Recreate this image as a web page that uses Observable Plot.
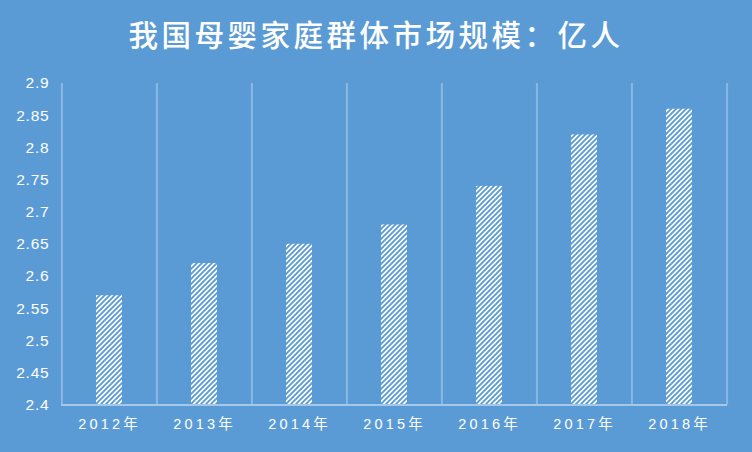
<!DOCTYPE html>
<html>
<head>
<meta charset="utf-8">
<script src="https://cdn.jsdelivr.net/npm/d3@7"></script>
<script src="https://cdn.jsdelivr.net/npm/@observablehq/plot@0.6"></script>
<style>
  body { margin: 0; background: #5B9BD5; }
  #wrap { position: relative; width: 752px; height: 452px; background: #5B9BD5; overflow: hidden; }
  #title { position: absolute; left: 0; top: 0; width: 752px; height: 67px; line-height: 67px;
    text-align: center; color: #fff; font-family: "Noto Sans CJK SC", sans-serif; font-size: 29.5px;
    font-weight: 500; letter-spacing: 3.5px; }
  svg [aria-label="y-axis tick label"] { font-family: "Liberation Sans", sans-serif; font-size: 15.5px; letter-spacing: 0.8px; }
  svg [aria-label="x-axis tick label"] { font-family: "Liberation Sans", "Noto Sans CJK SC", sans-serif; font-size: 14.5px; letter-spacing: 3.2px; }
</style>
</head>
<body>
<div id="wrap"><div id="title"></div></div>
<script>
const titleText = "我国母婴家庭群体市场规模：亿人";
const years = ["2012年", "2013年", "2014年", "2015年", "2016年", "2017年", "2018年"];
const values = [2.57, 2.62, 2.65, 2.68, 2.74, 2.82, 2.86];
const yTicks = [2.4, 2.45, 2.5, 2.55, 2.6, 2.65, 2.7, 2.75, 2.8, 2.85, 2.9];
const yDomain = [2.4, 2.9];

const data = years.map((year, i) => ({year, value: values[i]}));

const W = 752, H = 452, mL = 61, mR = 25, mT = 83, mB = 47.5;
const step = (W - mL - mR) / years.length;
const bg = "#5B9BD5";
const gridColor = "#8AB7E3";
const axisColor = "#A5C8EA";

document.getElementById("title").textContent = titleText;

const plot = Plot.plot({
  width: W, height: H,
  marginLeft: mL, marginRight: mR, marginTop: mT, marginBottom: mB,
  style: {background: bg, color: "#fff", overflow: "visible"},
  x: {domain: years, paddingInner: 0.73, paddingOuter: 0.365, label: null},
  y: {domain: yDomain, label: null},
  marks: [
    Plot.ruleX(years, {x: d => d, dx: -step / 2, y1: yDomain[0], y2: yDomain[1], stroke: gridColor, strokeWidth: 2}),
    Plot.ruleX([years[years.length - 1]], {x: d => d, dx: step / 2, y1: yDomain[0], y2: yDomain[1], stroke: gridColor, strokeWidth: 2}),
    Plot.barY(data, {x: "year", y1: yDomain[0], y2: "value", fill: "url(#hatch)"}),
    Plot.ruleY([yDomain[0]], {stroke: axisColor, strokeWidth: 2}),
    Plot.axisY({ticks: yTicks, tickSize: 0, tickPadding: 12, tickFormat: d => String(+d.toFixed(2)), fill: "#fff"}),
    Plot.axisX({tickSize: 0, tickPadding: 14, fill: "#fff"})
  ]
});

const ns = "http://www.w3.org/2000/svg";
const defs = document.createElementNS(ns, "defs");
defs.innerHTML = `<pattern id="hatch" patternUnits="userSpaceOnUse" width="5" height="5">
  <rect width="5" height="5" fill="#fff"/>
  <path d="M-1,1 L1,-1 M0,5 L5,0 M4,6 L6,4" stroke="${bg}" stroke-width="1.9"/>
</pattern>`;
plot.insertBefore(defs, plot.firstChild);
plot.style.position = "absolute";
plot.style.left = "0";
plot.style.top = "0";
const wrap = document.getElementById("wrap");
wrap.insertBefore(plot, wrap.firstChild);
</script>
</body>
</html>
